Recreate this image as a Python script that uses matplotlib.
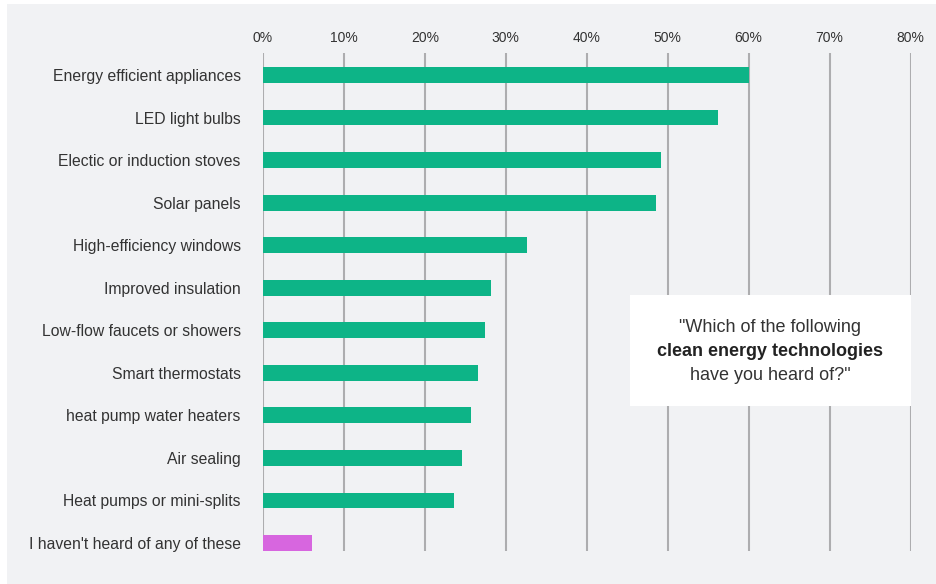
import matplotlib
matplotlib.use("Agg")
import matplotlib.pyplot as plt
from matplotlib.patches import Rectangle

plt.rcParams['font.family'] = ['Liberation Sans', 'DejaVu Sans']

categories = [
    "Energy efficient appliances",
    "LED light bulbs",
    "Electic or induction stoves",
    "Solar panels",
    "High-efficiency windows",
    "Improved insulation",
    "Low-flow faucets or showers",
    "Smart thermostats",
    "heat pump water heaters",
    "Air sealing",
    "Heat pumps or mini-splits",
    "I haven't heard of any of these",
]
values = [60.0, 56.2, 49.2, 48.6, 32.6, 28.2, 27.4, 26.6, 25.7, 24.6, 23.6, 6.0]
colors = ["#0db487"] * 11 + ["#d766df"]
ticks = [0, 10, 20, 30, 40, 50, 60, 70, 80]
tick_labels = [f"{t}%" for t in ticks]

W, H = 937, 584
fig = plt.figure(figsize=(W / 100, H / 100), dpi=100)
fig.patch.set_facecolor("white")
fig.patches.append(Rectangle((7 / W, 0), 1 - 8 / W, 1 - 4 / H, transform=fig.transFigure,
                             facecolor="#f1f2f4", edgecolor="none", zorder=-10))

ax = fig.add_axes([263 / W, 1 - 551 / H, (910.5 - 263) / W, (551 - 53) / H])
ax.set_facecolor("none")

pos = list(range(len(categories)))
for t in ticks:
    ax.axvline(t, color="#adadaf", lw=1.5, zorder=1)
ax.barh(pos, values, height=0.37, color=colors, zorder=2)

ax.set_xlim(0, 80)
ax.set_ylim(11 + 8 / 42.5, -22 / 42.5)
ax.set_yticks(pos)
ax.set_yticklabels(categories)
ax.set_xticks(ticks)
ax.set_xticklabels(tick_labels)
ax.xaxis.tick_top()
ax.tick_params(axis="y", length=0, pad=16, labelsize=11.3, labelcolor="#333333")
ax.tick_params(axis="x", length=0, pad=6, labelsize=10, labelcolor="#333333")
for s in ax.spines.values():
    s.set_visible(False)

# question box
fig.patches.append(Rectangle((630 / W, 1 - 406 / H), 281 / W, 111 / H, transform=fig.transFigure,
                             facecolor="white", edgecolor="none", zorder=5))
cx = 770.5 / W
fig.text(cx, 1 - 328 / H, '"Which of the following', ha="center", va="center",
         fontsize=13, color="#333333", zorder=6)
fig.text(cx, 1 - 352 / H, 'clean energy technologies', ha="center", va="center",
         fontsize=13, fontweight="bold", color="#222222", zorder=6)
fig.text(cx, 1 - 375 / H, 'have you heard of?"', ha="center", va="center",
         fontsize=13, color="#333333", zorder=6)

fig.savefig("out.png", dpi=100)
